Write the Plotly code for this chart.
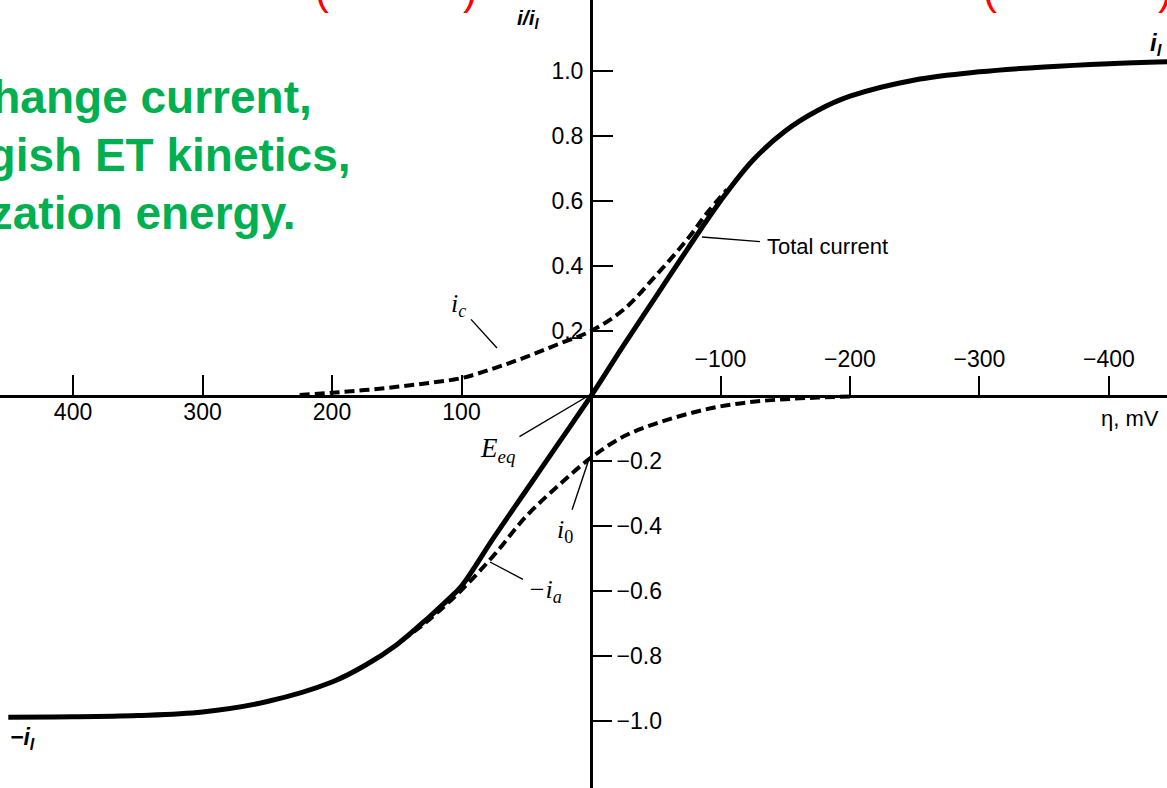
import plotly.graph_objects as go

# ---------------- data ----------------
eta_total = [450, 400, 350, 300, 250, 200, 175, 150, 125, 110, 100, 75, 50, 25, 0,
             -25, -50, -75, -100, -125, -150, -175, -200, -250, -300, -350, -400, -445]
i_total = [-0.988, -0.987, -0.983, -0.972, -0.94, -0.88, -0.83, -0.765, -0.68, -0.625, -0.585,
           -0.435, -0.29, -0.145, 0.0, 0.155, 0.305, 0.455, 0.60, 0.725, 0.815, 0.878, 0.922,
           0.972, 0.997, 1.012, 1.022, 1.028]

eta_c = [225, 200, 175, 150, 125, 100, 75, 50, 25, 0, -25, -50, -75, -90, -105]
i_c = [0.003, 0.01, 0.018, 0.028, 0.04, 0.055, 0.085, 0.12, 0.16, 0.20, 0.265, 0.37, 0.485, 0.565, 0.635]

eta_a = [-200, -175, -150, -125, -100, -75, -50, -25, 0, 25, 50, 75, 100, 125, 150]
i_a = [-0.002, -0.005, -0.01, -0.018, -0.032, -0.055, -0.085, -0.125, -0.19, -0.275, -0.37,
       -0.49, -0.597, -0.688, -0.765]

x_ticks_pos = [400, 300, 200, 100]
x_ticks_neg = [-100, -200, -300, -400]
y_ticks_pos = [0.2, 0.4, 0.6, 0.8, 1.0]
y_ticks_neg = [-0.2, -0.4, -0.6, -0.8, -1.0]

# ---------------- layout constants ----------------
W, H = 1167, 788
X_RANGE = [456.4, -444.8]
Y_RANGE = [-1.206, 1.218]
x_axis_pos = (0 - Y_RANGE[0]) / (Y_RANGE[1] - Y_RANGE[0])
y_axis_pos = (X_RANGE[0] - 0) / (X_RANGE[0] - X_RANGE[1])

SANS = "Liberation Sans, Arial, sans-serif"
SERIF = "Liberation Serif, Times New Roman, serif"
tickfont = dict(family=SANS, size=23, color="black")


def fmt_int(v):
    return ("\u2212" if v < 0 else "") + f"{abs(v):d}"


def fmt_dec(v):
    return ("\u2212" if v < 0 else "") + f"{abs(v):.1f}"


fig = go.Figure()
fig.add_trace(go.Scatter(x=eta_c, y=i_c, mode="lines", line=dict(color="black", width=4, dash="10px,5px"),
                         line_shape="spline", hoverinfo="skip", showlegend=False))
fig.add_trace(go.Scatter(x=eta_a, y=i_a, mode="lines", line=dict(color="black", width=4, dash="10px,5px"),
                         line_shape="spline", hoverinfo="skip", showlegend=False,
                         xaxis="x2", yaxis="y2"))
fig.add_trace(go.Scatter(x=eta_total, y=i_total, mode="lines", line=dict(color="black", width=5),
                         line_shape="spline", hoverinfo="skip", showlegend=False))

axis_common = dict(showgrid=False, zeroline=False, tickfont=tickfont, ticklen=20, tickwidth=2,
                   tickcolor="black", anchor="free", fixedrange=True)

fig.update_layout(
    width=W, height=H, margin=dict(l=0, r=0, t=0, b=0),
    paper_bgcolor="white", plot_bgcolor="white",
    xaxis=dict(range=X_RANGE, position=x_axis_pos, side="bottom", ticks="inside",
               tickvals=x_ticks_pos, ticktext=[fmt_int(v) for v in x_ticks_pos],
               showline=True, linecolor="black", linewidth=3, ticklabelstandoff=-6, **axis_common),
    xaxis2=dict(range=X_RANGE, position=x_axis_pos, side="top", ticks="outside", overlaying="x",
                tickvals=x_ticks_neg, ticktext=[fmt_int(v) for v in x_ticks_neg],
                showline=False, ticklabelstandoff=0, **axis_common),
    yaxis=dict(range=Y_RANGE, position=y_axis_pos, side="left", ticks="inside",
               tickvals=y_ticks_pos, ticktext=[fmt_dec(v) for v in y_ticks_pos],
               showline=True, linecolor="black", linewidth=3, ticklabelstandoff=2, **axis_common),
    yaxis2=dict(range=Y_RANGE, position=y_axis_pos, side="right", ticks="outside", overlaying="y",
                tickvals=y_ticks_neg, ticktext=[fmt_dec(v) for v in y_ticks_neg],
                showline=False, ticklabelstandoff=0, **axis_common),
)


def px(xp, yp):
    return xp / W, 1 - yp / H


annotations = []


def label(text, xp, yp, family=SANS, size=22, color="black", xanchor="center", yanchor="middle",
          point=None, startstandoff=0):
    x, y = px(xp, yp)
    a = dict(text=text, xref="paper", yref="paper", font=dict(family=family, size=size, color=color),
             xanchor=xanchor, yanchor=yanchor, showarrow=False)
    if point is not None:
        ptx, pty = px(*point)
        a.update(x=ptx, y=pty, ax=xp - point[0], ay=yp - point[1], axref="pixel", ayref="pixel",
                 showarrow=True, arrowhead=0, arrowwidth=1.4, arrowcolor="black", standoff=0,
                 startstandoff=startstandoff)
    else:
        a.update(x=x, y=y)
    annotations.append(a)


# axis / curve labels
label("<b><i>i/i<sub>l</sub></i></b>", 528, 19, size=21)
label("<b><i>i<sub>l</sub></i></b>", 1156, 45, size=24)
label("<b><i>\u2212i<sub>l</sub></i></b>", 22, 738, size=23)
label("\u03b7, mV", 1130, 418, size=22)
label("<i>i<sub>c</sub></i>", 458, 305, family=SERIF, size=26, point=(497, 348), startstandoff=6)
label("<i>E<sub>eq</sub></i>", 497, 450, family=SERIF, size=27, point=(588, 396), startstandoff=4)
label("<i>i</i><sub>0</sub>", 565, 531, family=SERIF, size=26, point=(588, 462), startstandoff=4)
label("<i>\u2212i<sub>a</sub></i>", 545, 591, family=SERIF, size=26, point=(490, 562), startstandoff=4)
label("Total current", 828, 247, size=22, point=(702, 237), startstandoff=6)

# green commentary (cut off at the left edge in the reference)
green = "#00B050"
label("<b>Small exchange current,</b>", 314, 97, size=46, color=green, xanchor="right")
label("<b>sluggish ET kinetics,</b>", 353, 155, size=46, color=green, xanchor="right")
label("<b>large reorganization energy.</b>", 298, 213, size=46, color=green, xanchor="right")

# red text cut off at the top edge
for xp, ch in ((322, "("), (470, ")"), (990, "("), (1165, ")")):
    label(ch, xp, -11, size=42, color="red")

fig.update_layout(annotations=annotations)

fig.write_html("out.html")
